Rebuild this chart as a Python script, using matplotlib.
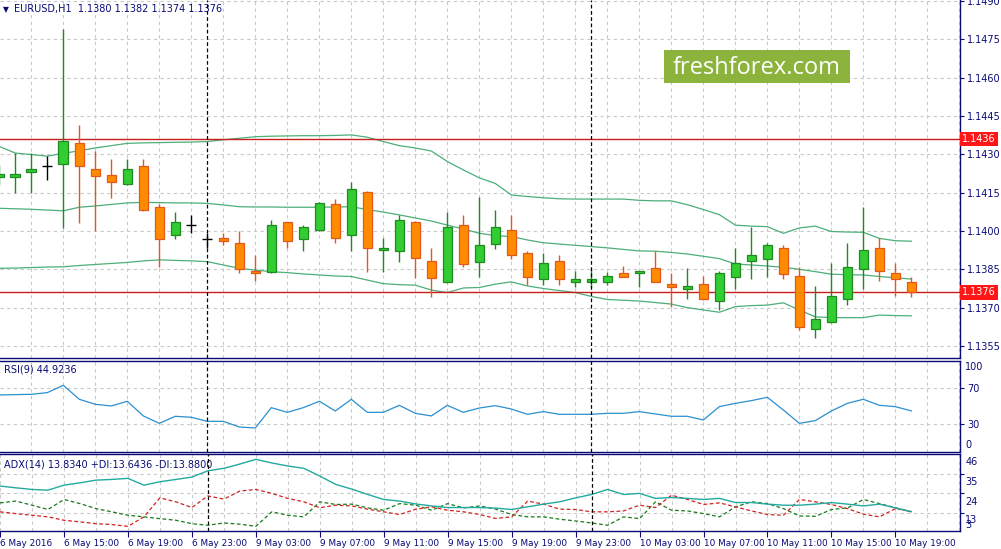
import matplotlib
matplotlib.use("Agg")
import matplotlib.pyplot as plt
import matplotlib.transforms as mtransforms
from matplotlib.ticker import MultipleLocator, FixedLocator, NullFormatter
from matplotlib.patches import Rectangle

# EURUSD H1, 6 May 11:00 .. 10 May 20:00 (58 bars)
opens = [1.14213, 1.14211, 1.14231, 1.14254, 1.14261, 1.14343, 1.14241, 1.14221, 1.14183, 1.14253,
         1.14093, 1.13983, 1.14022, 1.13967, 1.13971, 1.13952, 1.13843, 1.13841, 1.14034, 1.13970,
         1.14003, 1.14105, 1.13983, 1.14151, 1.13925, 1.13923, 1.14034, 1.13881, 1.13802, 1.14022,
         1.13880, 1.13950, 1.14003, 1.13913, 1.13813, 1.13881, 1.13802, 1.13802, 1.13802, 1.13835,
         1.13835, 1.13854, 1.13791, 1.13772, 1.13791, 1.13725, 1.13821, 1.13881, 1.13892, 1.13932,
         1.13823, 1.13615, 1.13643, 1.13733, 1.13852, 1.13932, 1.13835, 1.13800]
highs = [1.14258, 1.14305, 1.14305, 1.14293, 1.14789, 1.14415, 1.14313, 1.14281, 1.14281, 1.14281,
         1.14106, 1.14074, 1.14061, 1.13991, 1.13991, 1.14001, 1.13906, 1.14043, 1.14037, 1.14023,
         1.14114, 1.14124, 1.14192, 1.14157, 1.13973, 1.14061, 1.14041, 1.13932, 1.14073, 1.14061,
         1.14132, 1.14081, 1.14061, 1.13923, 1.13913, 1.13905, 1.13843, 1.13852, 1.13841, 1.13862,
         1.13845, 1.13923, 1.13835, 1.13854, 1.13823, 1.13845, 1.13932, 1.14017, 1.13952, 1.13944,
         1.13860, 1.13784, 1.13874, 1.13952, 1.14093, 1.13971, 1.13874, 1.13820]
lows = [1.14180, 1.14149, 1.14149, 1.14200, 1.14013, 1.14032, 1.14001, 1.14130, 1.14180, 1.14078,
        1.13860, 1.13970, 1.13991, 1.13932, 1.13945, 1.13835, 1.13804, 1.13835, 1.13932, 1.13923,
        1.14000, 1.13952, 1.13923, 1.13841, 1.13841, 1.13880, 1.13815, 1.13743, 1.13798, 1.13860,
        1.13821, 1.13931, 1.13892, 1.13789, 1.13789, 1.13789, 1.13782, 1.13782, 1.13789, 1.13820,
        1.13782, 1.13800, 1.13701, 1.13733, 1.13730, 1.13692, 1.13772, 1.13813, 1.13821, 1.13813,
        1.13614, 1.13582, 1.13640, 1.13712, 1.13772, 1.13803, 1.13744, 1.13740]
closes = [1.14223, 1.14223, 1.14243, 1.14254, 1.14351, 1.14253, 1.14214, 1.14191, 1.14241, 1.14081,
          1.13970, 1.14034, 1.14022, 1.13967, 1.13962, 1.13851, 1.13835, 1.14022, 1.13962, 1.14014,
          1.14111, 1.13971, 1.14163, 1.13932, 1.13932, 1.14042, 1.13893, 1.13815, 1.14014, 1.13872,
          1.13944, 1.14014, 1.13905, 1.13821, 1.13874, 1.13813, 1.13813, 1.13813, 1.13823, 1.13821,
          1.13842, 1.13802, 1.13782, 1.13784, 1.13733, 1.13835, 1.13874, 1.13905, 1.13944, 1.13833,
          1.13623, 1.13655, 1.13744, 1.13860, 1.13925, 1.13842, 1.13813, 1.13760]

bb_upper = [1.14331, 1.14305, 1.14299, 1.14293, 1.14304, 1.14314, 1.14325, 1.14334, 1.14343, 1.14345,
            1.14346, 1.14347, 1.14348, 1.14350, 1.14357, 1.14363, 1.14369, 1.14371, 1.14372, 1.14373,
            1.14373, 1.14374, 1.14376, 1.14367, 1.14350, 1.14334, 1.14325, 1.14313, 1.14272, 1.14239,
            1.14208, 1.14186, 1.14141, 1.14135, 1.14130, 1.14126, 1.14125, 1.14125, 1.14125, 1.14125,
            1.14120, 1.14118, 1.14118, 1.14103, 1.14084, 1.14064, 1.14023, 1.14019, 1.14017, 1.13991,
            1.14012, 1.14019, 1.13998, 1.13996, 1.13995, 1.13971, 1.13962, 1.13960]
bb_middle = [1.14089, 1.14087, 1.14085, 1.14082, 1.14079, 1.14093, 1.14098, 1.14104, 1.14110, 1.14112,
             1.14111, 1.14110, 1.14110, 1.14108, 1.14102, 1.14095, 1.14094, 1.14094, 1.14093, 1.14093,
             1.14093, 1.14094, 1.14095, 1.14084, 1.14074, 1.14063, 1.14051, 1.14039, 1.14023, 1.14008,
             1.13991, 1.13982, 1.13978, 1.13965, 1.13954, 1.13949, 1.13944, 1.13939, 1.13934, 1.13928,
             1.13922, 1.13921, 1.13916, 1.13910, 1.13901, 1.13892, 1.13871, 1.13867, 1.13863, 1.13858,
             1.13850, 1.13841, 1.13831, 1.13829, 1.13828, 1.13822, 1.13817, 1.13812]
bb_lower = [1.13854, 1.13855, 1.13857, 1.13859, 1.13860, 1.13865, 1.13869, 1.13873, 1.13877, 1.13883,
            1.13887, 1.13885, 1.13883, 1.13880, 1.13867, 1.13854, 1.13847, 1.13841, 1.13837, 1.13832,
            1.13828, 1.13824, 1.13822, 1.13808, 1.13794, 1.13790, 1.13788, 1.13769, 1.13759, 1.13777,
            1.13779, 1.13792, 1.13801, 1.13785, 1.13775, 1.13767, 1.13759, 1.13744, 1.13732, 1.13729,
            1.13726, 1.13720, 1.13714, 1.13700, 1.13691, 1.13682, 1.13704, 1.13708, 1.13710, 1.13719,
            1.13691, 1.13664, 1.13661, 1.13661, 1.13661, 1.13671, 1.13669, 1.13668]

rsi = [62.6, 63.0, 63.3, 65.2, 73.3, 57.8, 52.2, 50.4, 55.6, 39.3,
       31.1, 38.9, 37.8, 33.3, 33.3, 27.0, 25.9, 48.5, 43.3, 48.5,
       55.6, 44.8, 57.8, 43.3, 43.3, 51.1, 42.2, 39.3, 51.1, 43.3,
       48.1, 50.7, 47.0, 41.1, 44.1, 41.1, 41.1, 41.1, 42.2, 42.2,
       44.1, 41.5, 38.9, 38.9, 34.8, 49.6, 53.3, 56.3, 60.0, 45.9,
       31.1, 34.1, 44.8, 53.3, 57.8, 51.1, 49.6, 44.9]
adx = [28.1, 27.1, 26.2, 25.8, 28.6, 29.9, 31.4, 31.8, 32.4, 28.6,
       30.5, 31.8, 33.1, 36.6, 38.0, 40.4, 43.0, 41.0, 39.3, 38.0,
       33.7, 29.0, 26.4, 23.4, 20.6, 19.7, 18.1, 17.0, 16.1, 16.1,
       16.1, 15.8, 15.0, 16.5, 18.0, 19.3, 21.5, 23.4, 26.2, 23.4,
       24.0, 21.2, 21.7, 21.2, 20.6, 21.2, 18.9, 18.9, 18.0, 17.4,
       17.4, 18.0, 18.9, 18.0, 17.0, 18.0, 15.9, 13.8]
plus_di = [18.7, 19.7, 17.4, 15.0, 20.6, 18.3, 15.5, 13.7, 11.8, 10.9,
           9.9, 9.0, 7.1, 6.2, 7.5, 6.8, 5.6, 13.7, 11.8, 10.9,
           19.3, 17.8, 18.0, 15.9, 14.6, 18.3, 17.4, 14.6, 18.3, 15.9,
           17.0, 15.2, 12.2, 10.9, 10.9, 9.6, 8.6, 7.5, 6.2, 10.9,
           9.9, 19.3, 14.6, 14.2, 12.7, 10.9, 16.5, 19.3, 18.3, 15.5,
           11.4, 11.2, 15.0, 15.9, 20.6, 18.3, 16.0, 13.6]
minus_di = [13.7, 12.7, 11.8, 10.9, 9.0, 8.1, 7.1, 6.6, 5.6, 10.9,
            21.5, 19.3, 16.1, 22.6, 20.8, 25.3, 26.2, 24.0, 21.2, 19.3,
            16.0, 17.4, 17.0, 15.2, 13.7, 12.2, 15.2, 16.5, 14.6, 13.7,
            12.2, 10.0, 10.9, 19.7, 18.0, 15.2, 15.0, 13.7, 13.7, 14.2,
            17.4, 16.1, 23.0, 20.6, 17.8, 18.7, 16.5, 14.2, 12.2, 11.8,
            20.6, 19.3, 17.8, 15.5, 12.4, 10.9, 15.5, 13.9]

time_labels = ["6 May 2016", "6 May 15:00", "6 May 19:00", "6 May 23:00", "9 May 03:00",
               "9 May 07:00", "9 May 11:00", "9 May 15:00", "9 May 19:00", "9 May 23:00",
               "10 May 03:00", "10 May 07:00", "10 May 11:00", "10 May 15:00", "10 May 19:00"]
day_breaks = [13, 37]
level_lines = [1.1436, 1.1376]
price_ticks = [1.1355, 1.1370, 1.1385, 1.1400, 1.1415, 1.1430, 1.1445, 1.1460, 1.1475, 1.1490]

NAVY = "#0b0b78"
GRID = "#c9c9c9"
BULL, BULL_EDGE = "#32cd32", "#1f8a1f"
BEAR, BEAR_EDGE = "#ff8c00", "#e4581a"
BAND = "#4cae78"
FS = 7

W, H = 1001, 549
fig = plt.figure(figsize=(W / 100, H / 100), dpi=100)
fig.patch.set_facecolor("white")


def box(x0, y0, x1, y1):
    return [x0 / W, 1 - y1 / H, (x1 - x0) / W, (y1 - y0) / H]


ax_main = fig.add_axes(box(0, 0, 960, 358))
ax_rsi = fig.add_axes(box(0, 360.7, 960, 451.7))
ax_adx = fig.add_axes(box(0, 454, 960, 531))
n = len(closes)
xs = list(range(n))

for ax in (ax_main, ax_rsi, ax_adx):
    ax.set_xlim(0.044, 60.04)
    ax.set_facecolor("white")
    ax.spines["left"].set_visible(False)
    for side in ("right", "bottom", "top"):
        ax.spines[side].set_color(NAVY)
        ax.spines[side].set_linewidth(1.0)
    ax.xaxis.set_major_locator(MultipleLocator(4))
    ax.xaxis.set_minor_locator(MultipleLocator(2))
    ax.grid(True, axis="x", which="both", color=GRID, ls=(0, (3, 3)), lw=0.8)
    ax.yaxis.tick_right()
    ax.tick_params(axis="y", which="both", direction="out", length=3, color=NAVY,
                   labelsize=FS, labelcolor=NAVY, pad=2)
    ax.tick_params(axis="x", which="both", length=0, labelbottom=False)
    for d in day_breaks:
        ax.axvline(d, color="black", ls=(0, (3, 2)), lw=0.9, zorder=4)
    ax.set_axisbelow(True)

ax_main.spines["top"].set_visible(False)

# ---- main price panel
ax_main.set_ylim(1.13503, 1.14904)
ax_main.set_yticks(price_ticks)
ax_main.set_yticklabels(["%.4f" % p for p in price_ticks])
ax_main.grid(True, axis="y", which="major", color=GRID, ls=(0, (3, 3)), lw=0.8)

ax_main.plot(xs, bb_upper, color=BAND, lw=0.9, zorder=2)
ax_main.plot(xs, bb_middle, color=BAND, lw=0.9, zorder=2)
ax_main.plot(xs, bb_lower, color=BAND, lw=0.9, zorder=2)

for lvl in level_lines:
    ax_main.axhline(lvl, color="#c81e1e", lw=1.0, zorder=2.5)

for i in xs:
    o, h, l, c = opens[i], highs[i], lows[i], closes[i]
    if abs(c - o) < 1e-6:
        ax_main.vlines(i, l, h, color="black", lw=1, zorder=3)
        ax_main.hlines(c, i - 0.32, i + 0.32, color="black", lw=1, zorder=3)
        continue
    fill, edge = (BULL, BULL_EDGE) if c > o else (BEAR, BEAR_EDGE)
    ax_main.vlines(i, l, h, color=edge, lw=1, zorder=3)
    ax_main.add_patch(Rectangle((i - 0.3, min(o, c)), 0.6, abs(c - o),
                                facecolor=fill, edgecolor=edge, lw=0.9, zorder=3.5))

tr_main = mtransforms.blended_transform_factory(ax_main.transAxes, ax_main.transData)
for lvl in level_lines:
    ax_main.text(1.0025, lvl, "%.4f" % lvl, transform=tr_main, ha="left", va="center",
                 fontsize=FS, color="white", zorder=10, clip_on=False,
                 bbox=dict(facecolor="#ff1616", edgecolor="none", pad=1.6))

ax_main.text(0.003, 0.985, "\u25bc", transform=ax_main.transAxes, fontsize=5.5,
             color=NAVY, ha="left", va="top")
ax_main.text(0.015, 0.988, "EURUSD,H1  1.1380 1.1382 1.1374 1.1376", transform=ax_main.transAxes,
             fontsize=FS, color=NAVY, ha="left", va="top")

# watermark
fig.patches.append(Rectangle((664 / W, 1 - 83.3 / H), 186 / W, 33.3 / H,
                             transform=fig.transFigure, facecolor="#8cb43c",
                             edgecolor="none", zorder=20))
fig.text(757 / W, 1 - 67.5 / H, "freshforex.com", family="Open Sans", fontsize=17,
         color="white", ha="center", va="center", zorder=21)

# ---- RSI panel
ax_rsi.set_ylim(-0.44, 100.67)
ax_rsi.yaxis.set_major_locator(FixedLocator([70, 30]))
ax_rsi.set_yticklabels(["70", "30"])
ax_rsi.grid(True, axis="y", which="major", color=GRID, ls=(0, (3, 3)), lw=0.8)
ax_rsi.plot(xs, rsi, color="#2b8fd0", lw=0.9, zorder=3)
tr_rsi = mtransforms.blended_transform_factory(ax_rsi.transAxes, ax_rsi.transData)
for v, s in ((93.7, "100"), (7.0, "0")):
    ax_rsi.text(1.0055, v, s, transform=tr_rsi, ha="left", va="center", fontsize=FS, color=NAVY)
ax_rsi.text(0.004, 0.9, "RSI(9) 44.9236", transform=ax_rsi.transAxes, fontsize=FS,
            color=NAVY, ha="left", va="center")

# ---- ADX panel
ax_adx.set_ylim(3, 46)
ax_adx.yaxis.set_major_locator(FixedLocator([35, 24, 13]))
ax_adx.yaxis.set_major_formatter(NullFormatter())
ax_adx.grid(True, axis="y", which="major", color=GRID, ls=(0, (3, 3)), lw=0.8)
ax_adx.plot(xs, plus_di, color="#1a7a1a", lw=0.9, ls=(0, (3, 2)), zorder=3)
ax_adx.plot(xs, minus_di, color="#d42020", lw=0.9, ls=(0, (3, 2)), zorder=3)
ax_adx.plot(xs, adx, color="#22aaa0", lw=1.0, zorder=3.5)
tr_adx = mtransforms.blended_transform_factory(ax_adx.transAxes, ax_adx.transData)
for v, s in ((41.7, "46"), (30.2, "35"), (19.4, "24"), (9.0, "13"), (6.35, "3")):
    ax_adx.text(1.0055, v, s, transform=tr_adx, ha="left", va="center", fontsize=FS, color=NAVY)
ax_adx.text(0.004, 0.87, "ADX(14) 13.8340 +DI:13.6436 -DI:13.8800", transform=ax_adx.transAxes,
            fontsize=FS, color=NAVY, ha="left", va="center")

ax_adx.set_xticks(list(range(0, 57, 4)))
ax_adx.set_xticklabels(time_labels)
ax_adx.tick_params(axis="x", which="major", length=4, color=NAVY, direction="out",
                   labelbottom=True, labelsize=6.4, labelcolor=NAVY, pad=1.5)
for lbl in ax_adx.get_xticklabels():
    lbl.set_horizontalalignment("left")

fig.savefig("out.png", dpi=100, facecolor="white")
